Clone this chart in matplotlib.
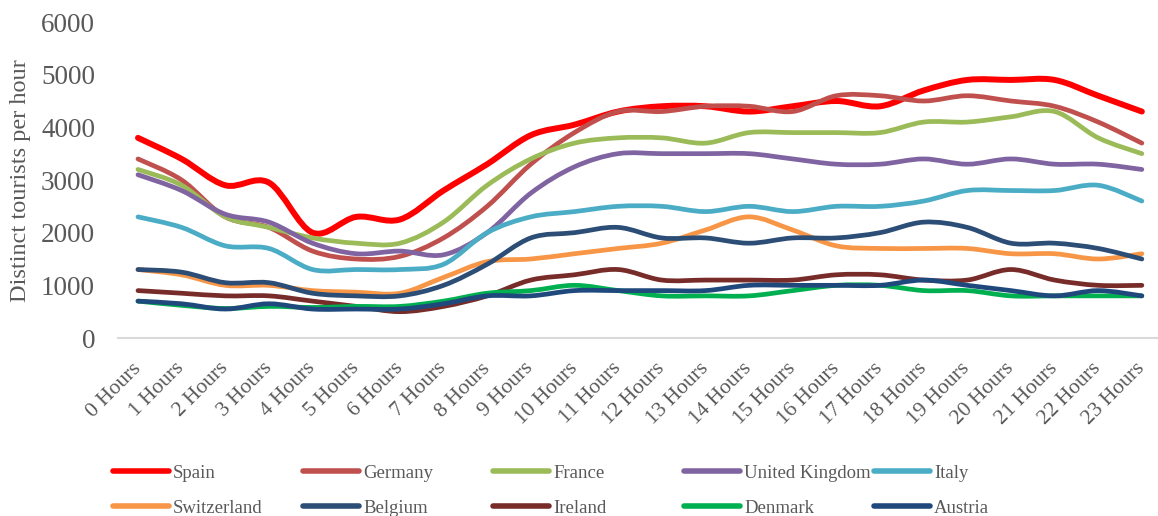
import matplotlib
matplotlib.use('Agg')
import matplotlib.pyplot as plt
from matplotlib.path import Path
from matplotlib.patches import PathPatch
from matplotlib.lines import Line2D
import numpy as np

plt.rcParams['font.family'] = ['Liberation Serif', 'DejaVu Serif']

hours = ['%d Hours' % h for h in range(24)]

spain = [3800, 3400, 2900, 2950, 2000, 2300, 2250, 2800, 3300, 3850, 4050, 4300,
         4400, 4400, 4300, 4400, 4500, 4400, 4700, 4900, 4900, 4900, 4600, 4300]
germany = [3400, 3000, 2300, 2100, 1650, 1500, 1550, 1900, 2500, 3300, 3900, 4300,
           4300, 4400, 4400, 4300, 4600, 4600, 4500, 4600, 4500, 4400, 4100, 3700]
france = [3200, 2900, 2300, 2100, 1900, 1800, 1800, 2200, 2900, 3400, 3700, 3800,
          3800, 3700, 3900, 3900, 3900, 3900, 4100, 4100, 4200, 4300, 3800, 3500]
uk = [3100, 2800, 2350, 2200, 1800, 1600, 1650, 1580, 2000, 2750, 3250, 3500,
      3500, 3500, 3500, 3400, 3300, 3300, 3400, 3300, 3400, 3300, 3300, 3200]
italy = [2300, 2100, 1750, 1700, 1300, 1300, 1300, 1400, 2000, 2300, 2400, 2500,
         2500, 2400, 2500, 2400, 2500, 2500, 2600, 2800, 2800, 2800, 2900, 2600]
switzerland = [1300, 1200, 1000, 1000, 900, 870, 850, 1150, 1450, 1500, 1600, 1700,
               1800, 2050, 2300, 2050, 1750, 1700, 1700, 1700, 1600, 1600, 1500, 1600]
belgium = [1300, 1250, 1050, 1050, 850, 800, 800, 1000, 1400, 1900, 2000, 2100,
           1900, 1900, 1800, 1900, 1900, 2000, 2200, 2100, 1800, 1800, 1700, 1500]
ireland = [900, 850, 800, 800, 700, 600, 500, 600, 800, 1100, 1200, 1300,
           1100, 1100, 1100, 1100, 1200, 1200, 1100, 1100, 1300, 1100, 1000, 1000]
denmark = [700, 620, 560, 600, 580, 600, 600, 700, 850, 900, 1000, 900,
           800, 800, 800, 900, 1000, 1000, 900, 900, 800, 800, 800, 800]
austria = [700, 650, 550, 650, 550, 550, 550, 650, 800, 800, 900, 900,
           900, 900, 1000, 1000, 1000, 1000, 1100, 1000, 900, 800, 900, 800]

names = ['Spain', 'Germany', 'France', 'United Kingdom', 'Italy',
         'Switzerland', 'Belgium', 'Ireland', 'Denmark', 'Austria']
series = [spain, germany, france, uk, italy, switzerland, belgium, ireland, denmark, austria]
colors = ['#FF0000', '#C0504D', '#9BBB59', '#8064A2', '#4BACC6',
          '#F79646', '#2C4D75', '#772C2A', '#00B050', '#1F497D']


def smooth_path(x, y):
    # excel-like smoothed line: catmull-rom as cubic bezier segments
    pts = np.column_stack([x, y]).astype(float)
    p = np.vstack([pts[0], pts, pts[-1]])
    verts = [pts[0]]
    codes = [Path.MOVETO]
    for i in range(len(pts) - 1):
        p0, p1, p2, p3 = p[i], p[i + 1], p[i + 2], p[i + 3]
        verts += [p1 + (p2 - p0) / 6.0, p2 - (p3 - p1) / 6.0, p2]
        codes += [Path.CURVE4] * 3
    return Path(verts, codes)


W, H = 1158, 516
fig = plt.figure(figsize=(W / 100, H / 100), dpi=100)
ax = fig.add_axes([118 / W, (H - 338) / H, (W - 118) / W, (338 - 22) / H])

x = np.arange(len(hours))
handles = []
for i, (name, vals, c) in enumerate(zip(names, series, colors)):
    lw = 4.3 if name == 'Spain' else 3.4
    patch = PathPatch(smooth_path(x, vals), facecolor='none', edgecolor=c, lw=lw,
                      capstyle='round', joinstyle='round', zorder=2 + i)
    ax.add_patch(patch)
    handles.append(Line2D([], [], color=c, lw=4.0, solid_capstyle='round', label=name))

ax.set_xlim(-0.458, 23.37)
ax.set_ylim(0, 6000)
ax.set_yticks([0, 1000, 2000, 3000, 4000, 5000, 6000])
ax.set_xticks(x)
ax.set_xticklabels(hours, rotation=45, ha='right', va='center', rotation_mode='anchor')

for s in ['left', 'top', 'right']:
    ax.spines[s].set_visible(False)
ax.spines['bottom'].set_color('#D9D9D9')
ax.spines['bottom'].set_linewidth(1.5)
ax.tick_params(axis='y', length=0, labelsize=19.5, labelcolor='#595959', pad=16.5)
ax.tick_params(axis='x', length=0, labelsize=15.5, labelcolor='#595959', pad=20)

fig.text(21 / W, 1 - 181 / H, 'Distinct tourists per hour', rotation=90,
         ha='center', va='center', fontsize=17.5, color='#595959')

# legend laid out row by row in 5 columns
col_x = [113, 303, 493, 684, 874]
for k in range(5):
    leg = fig.legend(handles=[handles[k], handles[k + 5]], loc='center left',
                     bbox_to_anchor=(col_x[k] / W, 1 - 490.5 / H), frameon=False,
                     fontsize=13.5, handlelength=3.0, handletextpad=0.2,
                     borderpad=0, borderaxespad=0, labelspacing=0.95)
    for t in leg.get_texts():
        t.set_color('#595959')

fig.savefig('out.png', dpi=100)
